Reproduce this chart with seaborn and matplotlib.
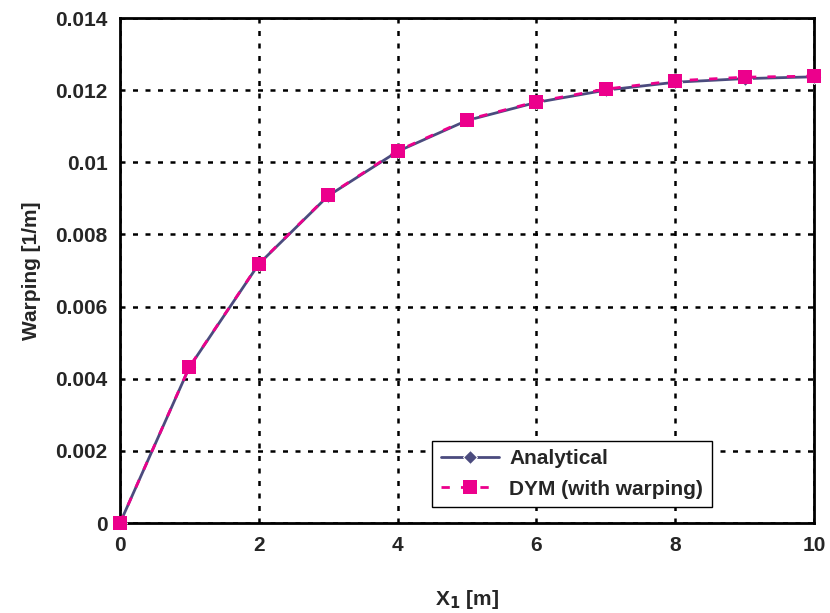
import pandas as pd
import seaborn as sns
import matplotlib.pyplot as plt

# values
x_m = [0, 1, 2, 3, 4, 5, 6, 7, 8, 9, 10]
analytical = [0.0, 0.00432, 0.00718, 0.00907, 0.01030, 0.01116, 0.01166,
              0.01200, 0.01222, 0.01232, 0.01237]
dym_warping = [0.0, 0.00433, 0.00719, 0.00908, 0.01032, 0.01118, 0.01168,
               0.01203, 0.01226, 0.01236, 0.01239]
y_ticks = [0, 0.002, 0.004, 0.006, 0.008, 0.01, 0.012, 0.014]
y_tick_labels = ["0", "0.002", "0.004", "0.006", "0.008", "0.01", "0.012", "0.014"]
x_ticks = [0, 2, 4, 6, 8, 10]

df = pd.DataFrame({"x": x_m, "Analytical": analytical, "DYM (with warping)": dym_warping})

sns.set_style("white")
plt.rcParams['font.family'] = ['Liberation Sans', 'DejaVu Sans']
plt.rcParams['font.weight'] = 'bold'

fig = plt.figure(figsize=(8.3, 6.13), dpi=100)
ax = fig.add_axes([0.1446, 0.1468, 0.836, 0.8238])

sns.lineplot(data=df, x="x", y="Analytical", ax=ax, color="#4B4B7E", lw=2,
             marker="D", markersize=7, label="Analytical", zorder=3, clip_on=False)
sns.lineplot(data=df, x="x", y="DYM (with warping)", ax=ax, color="#EC008C", lw=2,
             linestyle=(0, (3, 4)), marker="s", markersize=10, markeredgewidth=0,
             label="DYM (with warping)", zorder=4, clip_on=False)

ax.set_xlim(0, 10)
ax.set_ylim(0, 0.014)
ax.set_xticks(x_ticks)
ax.set_yticks(y_ticks)
ax.set_yticklabels(y_tick_labels)
ax.grid(True, color="black", linestyle=(0, (2, 3)), linewidth=1.8)
ax.set_axisbelow(True)
for s in ax.spines.values():
    s.set_color("black")
    s.set_linewidth(2)

ax.tick_params(axis="y", direction="out", length=5, width=1.5, color="black",
               labelsize=15, pad=4)
ax.tick_params(axis="x", length=0, labelsize=15, pad=9)
for lab in ax.get_xticklabels() + ax.get_yticklabels():
    lab.set_fontweight("bold")

ax.set_xlabel("X$_\\mathbf{1}$ [m]", fontsize=15, fontweight="bold", labelpad=24)
ax.set_ylabel("Warping [1/m]", fontsize=15, fontweight="bold", labelpad=10)

leg = ax.legend(loc="lower left", bbox_to_anchor=(0.45, 0.032), borderaxespad=0,
                fontsize=15, frameon=True, fancybox=False, borderpad=0.4,
                handlelength=2.8, handletextpad=0.5, labelspacing=0.55)
leg.get_frame().set_edgecolor("black")
leg.get_frame().set_linewidth(1)
leg.get_frame().set_alpha(1)
for t in leg.get_texts():
    t.set_fontweight("bold")

fig.savefig("out.png", dpi=100)
